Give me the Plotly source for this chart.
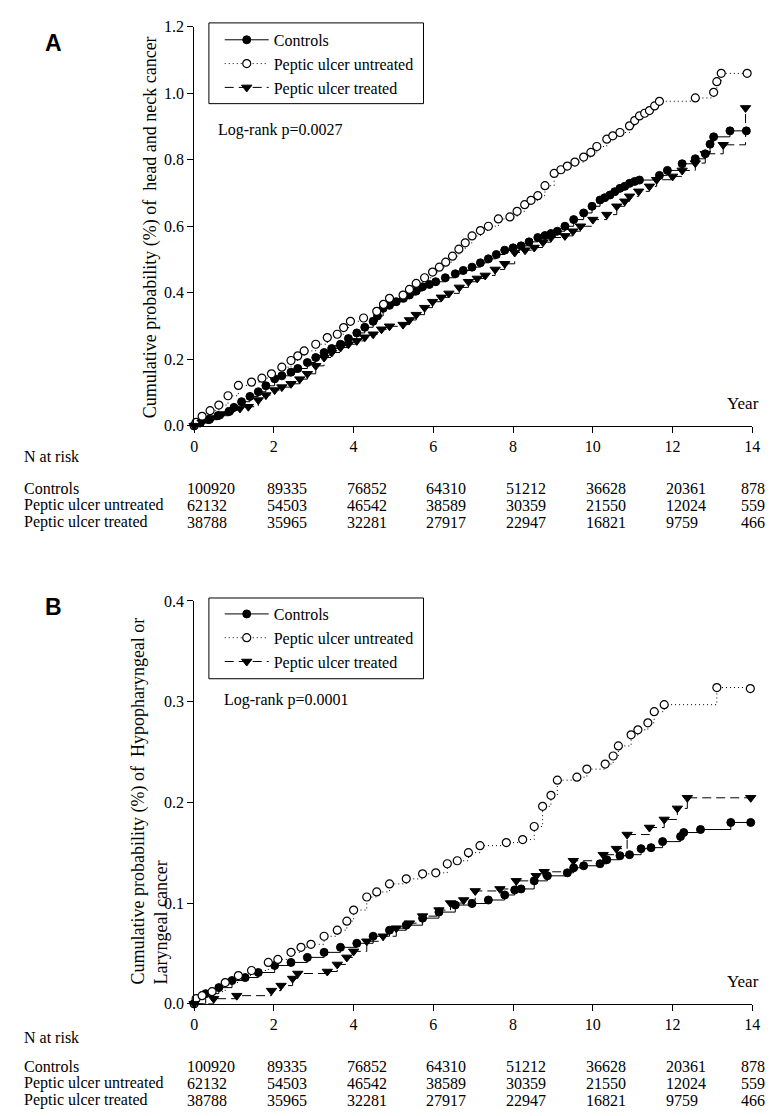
import plotly.graph_objects as go

# ---------------- Panel A: head and neck cancer ----------------
a_ctrl_t = [0, 0.15, 0.37, 0.6, 0.87, 1.0, 1.19, 1.4, 1.61, 1.8, 2.02, 2.2, 2.43, 2.6, 2.84, 3.05, 3.26,
            3.45, 3.67, 3.87, 4.08, 4.28, 4.49, 4.6, 4.74, 4.9, 5.07, 5.25, 5.4, 5.57, 5.73, 5.9, 6.06,
            6.3, 6.55, 6.75, 6.97, 7.18, 7.38, 7.58, 7.79, 8.0, 8.2, 8.4, 8.62, 8.8, 8.95, 9.11, 9.3,
            9.52, 9.77, 9.98, 10.18, 10.3, 10.43, 10.55, 10.68, 10.8, 10.92, 11.05, 11.17, 11.67, 11.87,
            12.24, 12.57, 12.82, 12.94, 13.03, 13.44, 13.85]
a_ctrl_v = [0, 0.008, 0.018, 0.03, 0.042, 0.055, 0.072, 0.088, 0.102, 0.12, 0.141, 0.15, 0.161, 0.172, 0.19,
            0.205, 0.22, 0.232, 0.245, 0.262, 0.279, 0.296, 0.314, 0.33, 0.353, 0.362, 0.373, 0.383, 0.393,
            0.405, 0.418, 0.425, 0.433, 0.445, 0.457, 0.467, 0.477, 0.49, 0.502, 0.515, 0.528, 0.535, 0.541,
            0.553, 0.566, 0.572, 0.578, 0.585, 0.6, 0.62, 0.64, 0.66, 0.679, 0.686, 0.694, 0.704, 0.714,
            0.72, 0.729, 0.735, 0.739, 0.753, 0.768, 0.788, 0.803, 0.818, 0.847, 0.869, 0.887, 0.887]

a_untr_t = [0, 0.05, 0.2, 0.4, 0.62, 0.85, 1.11, 1.44, 1.7, 1.94, 2.2, 2.43, 2.6, 2.76, 3.05, 3.34, 3.59,
            3.75, 3.92, 4.25, 4.58, 4.75, 4.9, 5.24, 5.4, 5.57, 5.78, 5.98, 6.15, 6.31, 6.48, 6.64, 6.8,
            6.97, 7.18, 7.38, 7.63, 7.92, 8.1, 8.29, 8.45, 8.62, 8.8, 9.03, 9.2, 9.36, 9.55, 9.77, 9.95,
            10.1, 10.35, 10.5, 10.68, 10.92, 11.05, 11.17, 11.3, 11.42, 11.55, 11.67, 12.57, 13.03, 13.11,
            13.22, 13.87]
a_untr_v = [0, 0.01, 0.028, 0.045, 0.062, 0.09, 0.121, 0.131, 0.143, 0.156, 0.176, 0.196, 0.21, 0.225,
            0.245, 0.265, 0.275, 0.295, 0.314, 0.324, 0.344, 0.365, 0.383, 0.393, 0.41, 0.428, 0.445, 0.462,
            0.477, 0.492, 0.51, 0.531, 0.55, 0.571, 0.587, 0.6, 0.622, 0.628, 0.645, 0.665, 0.678, 0.692,
            0.722, 0.759, 0.77, 0.781, 0.793, 0.808, 0.822, 0.84, 0.862, 0.872, 0.882, 0.902, 0.918, 0.932,
            0.94, 0.948, 0.962, 0.976, 0.986, 1.003, 1.035, 1.06, 1.06]

a_trt_t = [0, 0.2, 0.45, 0.7, 0.95, 1.15, 1.36, 1.61, 1.8, 2.02, 2.2, 2.43, 2.65, 2.84, 3.05, 3.26, 3.45,
           3.67, 3.87, 4.08, 4.28, 4.49, 4.7, 4.9, 5.24, 5.4, 5.57, 5.78, 5.98, 6.2, 6.39, 6.65, 6.88, 7.1,
           7.3, 7.55, 7.79, 8.04, 8.3, 8.53, 8.75, 8.95, 9.3, 9.5, 9.69, 10.0, 10.35, 10.6, 10.8, 10.92,
           11.15, 11.42, 11.6, 12.0, 12.24, 12.57, 12.82, 13.27, 13.83]
a_trt_v = [0, 0.01, 0.023, 0.035, 0.047, 0.052, 0.057, 0.077, 0.092, 0.107, 0.116, 0.126, 0.14, 0.156,
           0.18, 0.205, 0.22, 0.235, 0.245, 0.255, 0.266, 0.275, 0.29, 0.299, 0.304, 0.318, 0.334, 0.355,
           0.373, 0.386, 0.398, 0.416, 0.433, 0.443, 0.452, 0.47, 0.487, 0.521, 0.528, 0.536, 0.552, 0.566,
           0.571, 0.585, 0.6, 0.62, 0.635, 0.66, 0.675, 0.69, 0.705, 0.72, 0.74, 0.75, 0.768, 0.79, 0.818,
           0.845, 0.956]

# ---------------- Panel B: hypopharyngeal or laryngeal cancer ----------------
b_ctrl_t = [0, 0.29, 0.62, 0.95, 1.28, 1.61, 2.02, 2.43, 2.84, 3.26, 3.67, 4.08, 4.49, 4.9, 5.32, 5.73,
            6.14, 6.55, 6.97, 7.38, 7.79, 8.04, 8.2, 8.53, 8.86, 9.36, 9.52, 9.77, 10.18, 10.35, 10.68,
            10.92, 11.21, 11.46, 11.75, 12.2, 12.28, 12.7, 13.46, 13.96]
b_ctrl_v = [0, 0.01, 0.016, 0.023, 0.026, 0.031, 0.038, 0.041, 0.046, 0.051, 0.056, 0.06, 0.067, 0.073,
            0.078, 0.085, 0.091, 0.098, 0.0995, 0.103, 0.108, 0.113, 0.114, 0.122, 0.127, 0.13, 0.135,
            0.137, 0.139, 0.143, 0.147, 0.148, 0.154, 0.155, 0.161, 0.166, 0.17, 0.173, 0.18, 0.18]

b_untr_t = [0, 0.05, 0.2, 0.45, 0.78, 1.11, 1.44, 1.86, 2.1, 2.43, 2.68, 2.93, 3.26, 3.59, 3.83, 4.0,
            4.33, 4.58, 4.9, 5.32, 5.73, 6.06, 6.35, 6.6, 6.88, 7.17, 7.83, 8.24, 8.53, 8.74, 8.95, 9.11,
            9.6, 9.85, 10.31, 10.51, 10.64, 10.96, 11.13, 11.38, 11.54, 11.79, 13.11, 13.95]
b_untr_v = [0, 0.005, 0.008, 0.012, 0.021, 0.028, 0.033, 0.041, 0.044, 0.051, 0.056, 0.059, 0.067,
            0.073, 0.082, 0.093, 0.106, 0.111, 0.119, 0.124, 0.129, 0.13, 0.139, 0.142, 0.15, 0.157, 0.16,
            0.163, 0.176, 0.196, 0.207, 0.222, 0.225, 0.233, 0.238, 0.246, 0.256, 0.267, 0.272, 0.279,
            0.29, 0.297, 0.314, 0.313]

b_trt_t = [0, 0.49, 1.07, 1.94, 2.18, 2.47, 2.6, 3.34, 3.59, 3.83, 4.0, 4.33, 4.74, 5.07, 5.4, 5.73,
           6.14, 6.43, 6.76, 7.05, 7.67, 8.08, 8.58, 8.78, 9.51, 10.26, 10.59, 10.86, 11.42, 11.79, 12.12,
           12.37, 13.96]
b_trt_v = [0, 0.005, 0.008, 0.013, 0.018, 0.025, 0.03, 0.032, 0.039, 0.046, 0.052, 0.062, 0.067, 0.075,
           0.08, 0.087, 0.093, 0.1, 0.103, 0.112, 0.114, 0.122, 0.127, 0.131, 0.142, 0.148, 0.154, 0.168,
           0.175, 0.183, 0.194, 0.2045, 0.2045]

# ---------------- Number at risk ----------------
risk_years = [0, 2, 4, 6, 8, 10, 12, 14]
risk_controls = [100920, 89335, 76852, 64310, 51212, 36628, 20361, 878]
risk_untreated = [62132, 54503, 46542, 38589, 30359, 21550, 12024, 559]
risk_treated = [38788, 35965, 32281, 27917, 22947, 16821, 9759, 466]

series_names = ["Controls", "Peptic ulcer untreated", "Peptic ulcer treated"]

W, H = 773, 1116
SERIF = "Liberation Serif, Times New Roman, serif"
SANS = "Liberation Sans, Arial, sans-serif"


def py(p):  # pixel row -> paper y
    return 1 - p / H


def px(p):  # pixel column -> paper x
    return p / W


fig = go.Figure()

styles = [
    dict(marker=dict(symbol="circle", size=8, color="black", line=dict(color="black", width=1)),
         line=dict(color="black", width=1, dash="solid")),
    dict(marker=dict(symbol="circle", size=8, color="white", line=dict(color="black", width=1.2)),
         line=dict(color="black", width=1, dash="1px,3px")),
    dict(marker=dict(symbol="triangle-down", size=9, color="black", line=dict(color="black", width=1)),
         line=dict(color="black", width=1, dash="9px,5px")),
]

panelA = [(a_ctrl_t, a_ctrl_v), (a_untr_t, a_untr_v), (a_trt_t, a_trt_v)]
panelB = [(b_ctrl_t, b_ctrl_v), (b_untr_t, b_untr_v), (b_trt_t, b_trt_v)]

for (t, v), name, st in zip(panelA, series_names, styles):
    fig.add_trace(go.Scatter(x=t, y=v, name=name, mode="lines+markers", line_shape="hv",
                             marker=st["marker"], line=st["line"], xaxis="x", yaxis="y",
                             legend="legend", cliponaxis=False))
for (t, v), name, st in zip(panelB, series_names, styles):
    fig.add_trace(go.Scatter(x=t, y=v, name=name, mode="lines+markers", line_shape="hv",
                             marker=st["marker"], line=st["line"], xaxis="x2", yaxis="y2",
                             legend="legend2", cliponaxis=False))

axis_common = dict(showline=True, linecolor="black", linewidth=1, ticks="outside", ticklen=6,
                   tickcolor="black", tickwidth=1, showgrid=False, zeroline=False,
                   tickfont=dict(family=SERIF, size=16, color="black"))

xdom = [px(185), px(752)]
legend_common = dict(xanchor="left", yanchor="top", bgcolor="rgba(0,0,0,0)", borderwidth=0,
                     font=dict(family=SERIF, size=16, color="black"), itemwidth=44, tracegroupgap=0)
fig.update_layout(
    width=W, height=H, margin=dict(l=0, r=0, t=0, b=0),
    paper_bgcolor="white", plot_bgcolor="white",
    font=dict(family=SERIF, size=16, color="black"),
    xaxis=dict(domain=xdom, range=[0, 14], dtick=2, anchor="y", **axis_common),
    yaxis=dict(domain=[py(416), py(11)], range=[0, 1.2], dtick=0.2, tickformat=".1f", anchor="x",
               **axis_common),
    xaxis2=dict(domain=xdom, range=[0, 14], dtick=2, anchor="y2", **axis_common),
    yaxis2=dict(domain=[py(1003), py(594)], range=[0, 0.4], dtick=0.1, tickformat=".1f", anchor="x2",
                **axis_common),
    legend=dict(x=px(211), y=py(7), **legend_common),
    legend2=dict(x=px(211), y=py(590), **legend_common),
    showlegend=True,
)

# legend frames
for top, bot in [(7, 89), (591, 673)]:
    fig.add_shape(type="rect", xref="paper", yref="paper", x0=px(200), x1=px(418), y0=py(bot), y1=py(top),
                  line=dict(color="black", width=1), fillcolor="rgba(0,0,0,0)", layer="below")

ann = []
# panel letters
ann.append(dict(text="<b>A</b>", x=px(31), y=py(27), font=dict(family=SANS, size=23)))
ann.append(dict(text="<b>B</b>", x=px(31), y=py(600), font=dict(family=SANS, size=23)))
# log-rank
ann.append(dict(text="Log-rank p=0.0027", x=px(207), y=py(116), xanchor="left", font=dict(size=16)))
ann.append(dict(text="Log-rank p=0.0001", x=px(213), y=py(695), xanchor="left", font=dict(size=16)))
# Year
ann.append(dict(text="Year", x=px(761), y=py(393), xanchor="right", font=dict(size=17)))
ann.append(dict(text="Year", x=px(761), y=py(980), xanchor="right", font=dict(size=17)))
# y-axis titles
ann.append(dict(text="Cumulative probability (%) of\u00a0 head and neck cancer", x=px(128), y=py(215),
                textangle=-90, font=dict(size=18)))
ann.append(dict(text="Cumulative probability (%) of\u00a0 Hypopharyngeal or<br>Laryngeal cancer",
                x=px(116), y=py(797), textangle=-90, align="left", font=dict(size=18)))

# number at risk tables
for axis_x, rows in [("x", (447, 480, 497, 514)), ("x2", (1037, 1067, 1084, 1101))]:
    ann.append(dict(text="N at risk", x=px(10), y=py(rows[0]), xanchor="left", font=dict(size=16)))
    for lab, vals, ry in zip(series_names, [risk_controls, risk_untreated, risk_treated], rows[1:]):
        ann.append(dict(text=lab, x=px(10), y=py(ry), xanchor="left", font=dict(size=16)))
        for yr, n in zip(risk_years, vals):
            shift = -13 if yr == 14 else -9
            ann.append(dict(text=str(n), x=yr, xref=axis_x, y=py(ry), xanchor="left", xshift=shift,
                            font=dict(size=16)))

for a in ann:
    a.setdefault("xref", "paper")
    a["yref"] = "paper"
    a["showarrow"] = False
    a.setdefault("yanchor", "middle")
    f = a.get("font", {})
    f.setdefault("family", SERIF)
    f.setdefault("color", "black")
    a["font"] = f
    fig.add_annotation(**a)

fig.write_html("out.html")
